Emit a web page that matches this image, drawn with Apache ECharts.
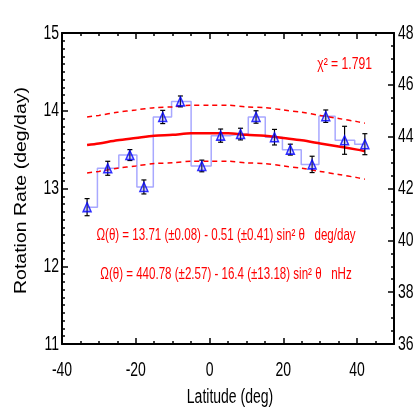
<!DOCTYPE html>
<html>
<head>
<meta charset="utf-8">
<script src="https://cdn.jsdelivr.net/npm/echarts@6/dist/echarts.min.js"></script>
<style>html,body{margin:0;padding:0;background:#fff}#c{width:414px;height:414px}</style>
</head>
<body>
<div id="c"></div>
<script>
const latitudes = [-33.2, -27.6, -21.6, -17.8, -12.7, -7.9, -2.1, 3.0, 8.4, 12.6, 17.6, 21.9, 27.8, 31.5, 36.6, 42.1];
const rates = [12.76, 13.26, 13.43, 13.02, 13.92, 14.12, 13.29, 13.68, 13.70, 13.92, 13.66, 13.50, 13.31, 13.93, 13.62, 13.57];
const errors = [0.11, 0.09, 0.07, 0.09, 0.085, 0.07, 0.075, 0.085, 0.075, 0.08, 0.10, 0.07, 0.105, 0.08, 0.18, 0.135];
const fitLatitudes = [-33.2, -30, -25, -20, -15, -10, -5, 0, 5, 10, 15, 20, 25, 30, 35, 40, 42.1];
const fitRates = [13.56, 13.58, 13.62, 13.65, 13.68, 13.69, 13.71, 13.71, 13.71, 13.69, 13.68, 13.65, 13.62, 13.58, 13.54, 13.50, 13.48];
const fitUpper = [13.92, 13.94, 13.98, 14.01, 14.04, 14.05, 14.07, 14.07, 14.07, 14.05, 14.04, 14.01, 13.98, 13.94, 13.90, 13.86, 13.84];
const fitLower = [13.20, 13.22, 13.26, 13.29, 13.32, 13.33, 13.35, 13.35, 13.35, 13.33, 13.32, 13.29, 13.26, 13.22, 13.18, 13.14, 13.12];
const xTickLabels = [-40, -20, 0, 20, 40];
const yLeftTickLabels = [11, 12, 13, 14, 15];
const yRightTickLabels = [36, 38, 40, 42, 44, 46, 48];
const xTitle = 'Latitude (deg)';
const yTitle = 'Rotation Rate (deg/day)';
const eq1 = 'Ω(θ) = 13.71 (±0.08) - 0.51 (±0.41) sin² θ   deg/day';
const eq2 = 'Ω(θ) = 440.78 (±2.57) - 16.4 (±13.18) sin² θ   nHz';
const chiText = 'χ² = 1.791';

const FONT = "'Liberation Sans', Arial, Helvetica, sans-serif";
const SQ = 0.7; // horizontal squeeze of the original lettering
const pts = latitudes.map((x, i) => [x, rates[i]]);
const errData = latitudes.map((x, i) => [x, rates[i] - errors[i], rates[i] + errors[i]]);
const zip = arr => fitLatitudes.map((x, i) => [x, arr[i]]);

function axisBase(split) {
  return {
    axisLine: { show: true, onZero: false, lineStyle: { color: '#000', width: 2 } },
    axisTick: { show: true, inside: true, length: 6, lineStyle: { color: '#000', width: 1.5 } },
    minorTick: { show: true, splitNumber: split, length: 3, lineStyle: { color: '#000', width: 1.5 } },
    splitLine: { show: false },
    minorSplitLine: { show: false },
    axisLabel: { show: false }
  };
}

const chart = echarts.init(document.getElementById('c'), null, { renderer: 'canvas' });
chart.setOption({
  animation: false,
  backgroundColor: '#fff',
  grid: { left: 62, top: 33, width: 332, height: 311, containLabel: false },
  xAxis: [
    Object.assign(axisBase(4), { type: 'value', min: -40, max: 50, interval: 20, position: 'bottom' }),
    Object.assign(axisBase(4), { type: 'value', min: -40, max: 50, interval: 20, position: 'top' })
  ],
  yAxis: [
    Object.assign(axisBase(10), { type: 'value', min: 11, max: 15, interval: 1, position: 'left' }),
    Object.assign(axisBase(4), { type: 'value', min: 36, max: 48, interval: 2, position: 'right' })
  ],
  series: [
    {
      type: 'line', step: 'middle', data: pts, symbol: 'none', z: 2,
      lineStyle: { color: '#a8a8ff', width: 1.5 }
    },
    {
      type: 'line', data: zip(fitRates), smooth: 0.3, symbol: 'none', z: 3,
      lineStyle: { color: '#ff0000', width: 2.5 }
    },
    {
      type: 'line', data: zip(fitUpper), smooth: 0.3, symbol: 'none', z: 3,
      lineStyle: { color: '#ff0000', width: 1.5, type: [5, 4] }
    },
    {
      type: 'line', data: zip(fitLower), smooth: 0.3, symbol: 'none', z: 3,
      lineStyle: { color: '#ff0000', width: 1.5, type: [5, 4] }
    },
    {
      type: 'custom', z: 4, data: errData,
      renderItem: function (params, api) {
        const x = api.value(0);
        const lo = api.coord([x, api.value(1)]);
        const hi = api.coord([x, api.value(2)]);
        const w = 2.5;
        const st = { stroke: '#000', lineWidth: 1.2 };
        return { type: 'group', children: [
          { type: 'line', shape: { x1: lo[0], y1: lo[1], x2: hi[0], y2: hi[1] }, style: st },
          { type: 'line', shape: { x1: lo[0] - w, y1: lo[1], x2: lo[0] + w, y2: lo[1] }, style: st },
          { type: 'line', shape: { x1: hi[0] - w, y1: hi[1], x2: hi[0] + w, y2: hi[1] }, style: st }
        ]};
      }
    },
    {
      type: 'scatter', data: pts, symbol: 'triangle', symbolSize: [8, 9], z: 5,
      itemStyle: { color: 'rgba(90,90,255,0.35)', borderColor: '#0000ff', borderWidth: 1.5 }
    }
  ]
});

// Text drawn as graphics, placed through the chart's own axis scales
const g = [];
function txt(x, y, text, size, color, align, extra) {
  return Object.assign({
    type: 'text', x: x, y: y, scaleX: SQ, z: 10,
    style: { text: text, fill: color, font: size + 'px ' + FONT, align: align, verticalAlign: 'middle' }
  }, extra || {});
}
const gridBottom = chart.convertToPixel({ yAxisIndex: 0 }, 11);
const gridLeft = chart.convertToPixel({ xAxisIndex: 0 }, -40);
const gridRight = chart.convertToPixel({ xAxisIndex: 0 }, 50);
const gridTop = chart.convertToPixel({ yAxisIndex: 0 }, 15);
xTickLabels.forEach(v => {
  g.push(txt(chart.convertToPixel({ xAxisIndex: 0 }, v), gridBottom + 26, String(v), 20, '#000', 'center'));
});
yLeftTickLabels.forEach(v => {
  g.push(txt(gridLeft - 3, chart.convertToPixel({ yAxisIndex: 0 }, v), String(v), 20, '#000', 'right'));
});
yRightTickLabels.forEach(v => {
  g.push(txt(gridRight + 4, chart.convertToPixel({ yAxisIndex: 1 }, v), String(v), 20, '#000', 'left'));
});
g.push(txt((gridLeft + gridRight) / 2 + 2, gridBottom + 53, xTitle, 20, '#000', 'center'));
g.push({
  type: 'text', x: gridLeft - 41, y: (gridTop + gridBottom) / 2 + 2, rotation: Math.PI / 2, scaleY: 0.85, z: 10,
  style: { text: yTitle, fill: '#000', font: '19.5px ' + FONT, align: 'center', verticalAlign: 'middle' }
});
g.push(txt(gridRight - 22, gridTop + 32, chiText, 16, '#ff0000', 'right', { scaleX: 0.76 }));
const eqX = (gridLeft + gridRight) / 2 - 2;
g.push(txt(eqX, chart.convertToPixel({ yAxisIndex: 0 }, 12.4), eq1, 16.5, '#ff0000', 'center', { scaleX: 0.7 }));
g.push(txt(eqX, chart.convertToPixel({ yAxisIndex: 0 }, 11.9), eq2, 16.5, '#ff0000', 'center', { scaleX: 0.7 }));
chart.setOption({ graphic: g });
</script>
</body>
</html>
